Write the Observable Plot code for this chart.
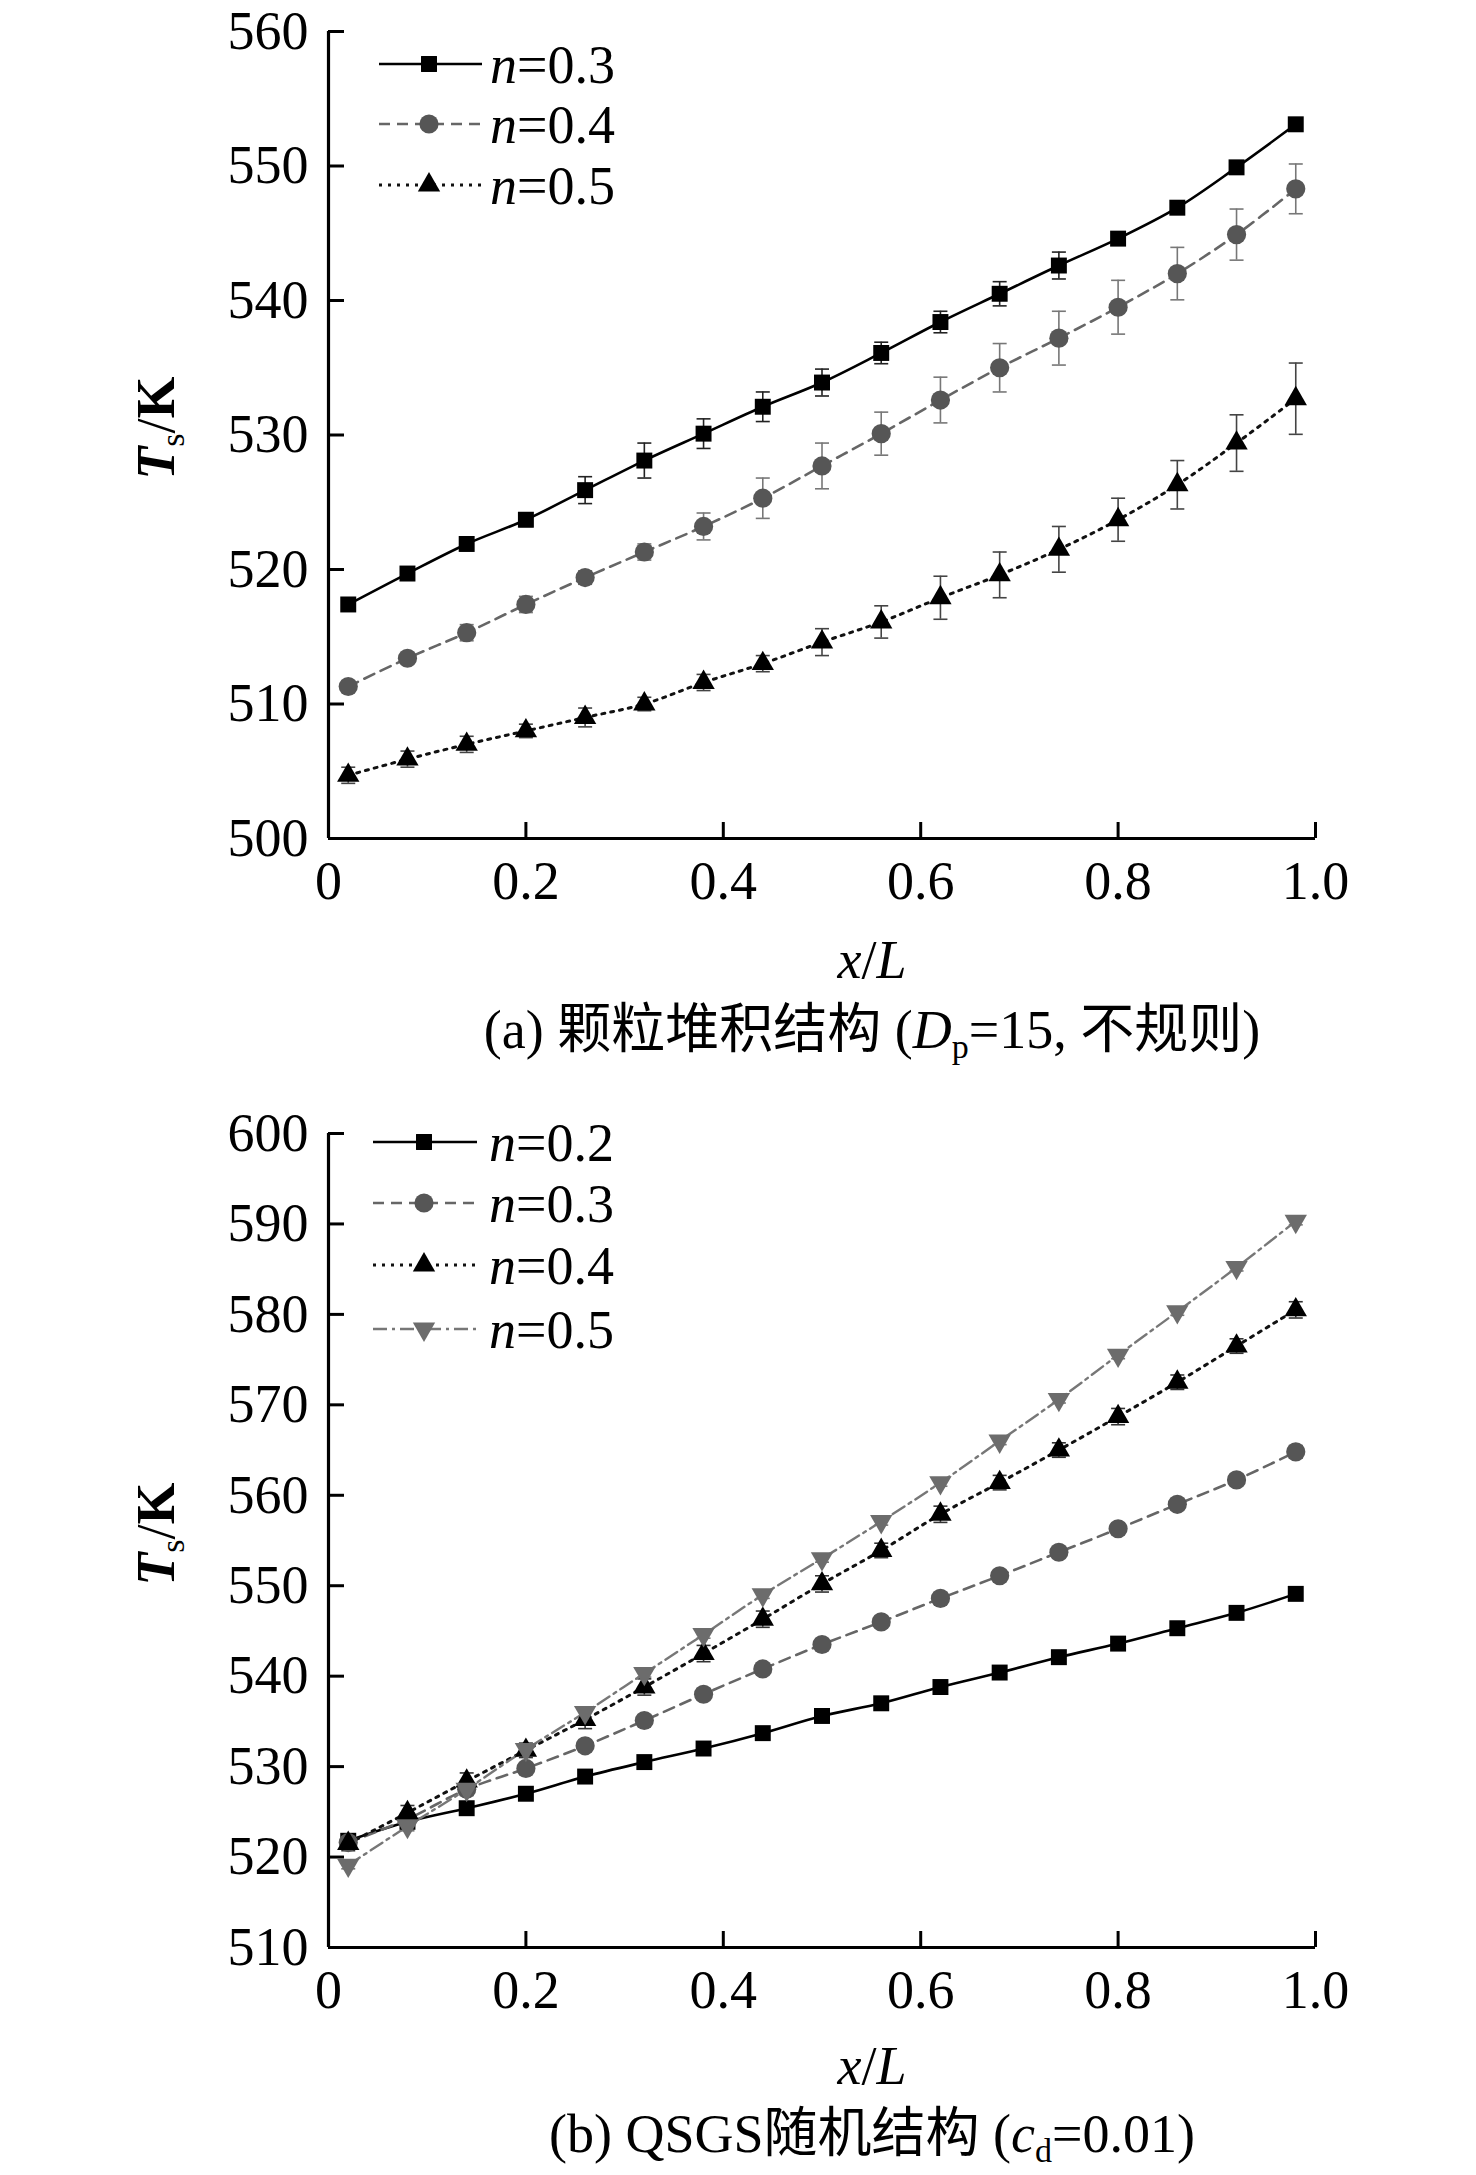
<!DOCTYPE html>
<html>
<head>
<meta charset="utf-8">
<script src="https://cdn.jsdelivr.net/npm/d3@7"></script>
<script src="https://cdn.jsdelivr.net/npm/@observablehq/plot@0.6"></script>
<style>
  html, body { margin: 0; padding: 0; background: #fff; width: 1476px; height: 2175px; overflow: hidden; }
  #root { width: 1476px; height: 2175px; position: relative; background: #fff; overflow: hidden; }
  #root svg { display: block; }
</style>
</head>
<body>
<div id="root"></div>
<script>
// ---------------- data ----------------
const xPos = [0.02, 0.08, 0.14, 0.20, 0.26, 0.32, 0.38, 0.44, 0.50, 0.56, 0.62, 0.68, 0.74, 0.80, 0.86, 0.92, 0.98];

// (a) packed particles
const topLabels = ["0.3", "0.4", "0.5"];
const a03 = [517.4, 519.7, 521.9, 523.7, 525.9, 528.1, 530.1, 532.1, 533.9, 536.1, 538.4, 540.5, 542.6, 544.6, 546.9, 549.9, 553.1];
const a04 = [511.3, 513.4, 515.3, 517.4, 519.4, 521.3, 523.2, 525.3, 527.7, 530.1, 532.6, 535.0, 537.2, 539.5, 542.0, 544.9, 548.3];
const a05 = [504.7, 505.9, 507.0, 508.0, 509.0, 510.0, 511.6, 513.0, 514.6, 516.1, 517.9, 519.6, 521.5, 523.7, 526.3, 529.4, 532.7];
const ea03 = [0.4, 0.3, 0.5, 0.5, 1.0, 1.3, 1.1, 1.1, 1.0, 0.8, 0.8, 0.9, 1.0, 0.4, 0.4, 0.3, 0.4];
const ea04 = [0.3, 0.3, 0.6, 0.6, 0.5, 0.6, 1.0, 1.5, 1.7, 1.6, 1.7, 1.8, 2.0, 2.0, 1.95, 1.9, 1.85];
const ea05 = [0.6, 0.6, 0.6, 0.5, 0.7, 0.5, 0.6, 0.6, 1.0, 1.2, 1.6, 1.7, 1.7, 1.6, 1.8, 2.1, 2.65];

// (b) QSGS
const botLabels = ["0.2", "0.3", "0.4", "0.5"];
const b02 = [521.8, 523.9, 525.4, 527.0, 528.9, 530.5, 532.0, 533.7, 535.6, 537.0, 538.8, 540.4, 542.1, 543.6, 545.3, 547.0, 549.1];
const b03 = [521.6, 524.2, 527.5, 529.8, 532.3, 535.1, 538.0, 540.8, 543.5, 546.0, 548.6, 551.1, 553.7, 556.3, 559.0, 561.7, 564.8];
const b04 = [521.5, 524.9, 528.4, 531.8, 535.2, 538.8, 542.5, 546.3, 550.2, 553.9, 557.9, 561.4, 565.0, 568.7, 572.5, 576.5, 580.5];
const b05 = [519.1, 523.4, 527.5, 531.9, 536.0, 540.3, 544.6, 549.0, 553.0, 557.1, 561.4, 566.0, 570.6, 575.5, 580.3, 585.2, 590.3];
const eb02 = [0.4, 0.5, 0.4, 0.3, 0.4, 0.3, 0.3, 0.3, 0.4, 0.3, 0.3, 0.3, 0.4, 0.3, 0.3, 0.4, 0.4];
const eb03 = [0.5, 0.6, 0.7, 0.5, 0.6, 0.5, 0.6, 0.5, 0.5, 0.5, 0.6, 0.5, 0.6, 0.5, 0.6, 0.6, 0.7];
const eb04 = [0.8, 0.8, 0.9, 0.8, 1.0, 0.9, 0.9, 0.9, 0.9, 0.8, 0.9, 0.8, 0.8, 0.9, 0.8, 0.8, 0.9];
const eb05 = [0.4, 0.5, 0.5, 0.4, 0.5, 0.4, 0.4, 0.4, 0.4, 0.4, 0.4, 0.4, 0.4, 0.4, 0.4, 0.4, 0.4];

const xTicks = [0, 0.2, 0.4, 0.6, 0.8, 1.0];
const yTicksTop = [500, 510, 520, 530, 540, 550, 560];
const yTicksBot = [510, 520, 530, 540, 550, 560, 570, 580, 590, 600];

// ---------------- styles ----------------
const FONT = '"Liberation Serif", "Times New Roman", "Noto Sans CJK SC", serif';
const FS = 54;
const STY = {
  square:   {symbol: "square",   r: 9.0, fill: "#000", rotate: 0},
  circle:   {symbol: "circle",   r: 9.6, fill: "#565656", rotate: 0},
  triUp:    {symbol: "triangle", r: 8.3, fill: "#000", rotate: 0},
  triDown:  {symbol: "triangle", r: 8.3, fill: "#6c6c6c", rotate: 180}
};
const LINE = {
  solid:   {stroke: "#000", dash: null, width: 2.6},
  dashed:  {stroke: "#666", dash: "11,7", width: 2.6},
  dotted:  {stroke: "#111", dash: "3,6", width: 3},
  dashdot: {stroke: "#777", dash: "14,5,3,5", width: 2.4}
};

const capSymbol = {draw(ctx) { ctx.moveTo(-7, 0); ctx.lineTo(7, 0); }};

function rows(vals, errs) {
  return xPos.map((x, i) => ({x, y: vals[i], lo: vals[i] - errs[i], hi: vals[i] + errs[i]}));
}

function seriesMarks(s) {
  const d = rows(s.vals, s.errs);
  const L = LINE[s.line];
  return [
    Plot.line(d, {x: "x", y: "y", stroke: L.stroke, strokeWidth: L.width, strokeDasharray: L.dash, curve: "catmull-rom"}),
    Plot.ruleX(d, {x: "x", y1: "lo", y2: "hi", stroke: s.err, strokeWidth: 1.6}),
    Plot.dot(d, {x: "x", y: "lo", symbol: capSymbol, stroke: s.err, fill: "none", strokeWidth: 1.6, r: 1}),
    Plot.dot(d, {x: "x", y: "hi", symbol: capSymbol, stroke: s.err, fill: "none", strokeWidth: 1.6, r: 1})
  ];
}
function seriesDots(s) {
  const d = rows(s.vals, s.errs);
  const M = STY[s.marker];
  return Plot.dot(d, {x: "x", y: "y", symbol: M.symbol, r: M.r, fill: M.fill, stroke: "none", rotate: M.rotate});
}

function makeChart({height, marginTop, marginBottom, yDomain, yTicks, series}) {
  const marks = [];
  series.forEach(s => marks.push(...seriesMarks(s)));
  series.forEach(s => marks.push(seriesDots(s)));
  return Plot.plot({
    width: 1476, height, marginLeft: 328, marginRight: 161, marginTop, marginBottom,
    x: {domain: [0, 1]},
    y: {domain: yDomain},
    style: {fontFamily: FONT, fontSize: FS + "px", color: "#000", background: "transparent", overflow: "visible"},
    marks: [
      Plot.ruleY([yDomain[0]], {stroke: "#000", strokeWidth: 3.2}),
      Plot.ruleX([0], {stroke: "#000", strokeWidth: 3.2}),
      Plot.axisX({ticks: xTicks.slice(1), tickSize: 16, dy: -16, text: null, label: null, strokeWidth: 3}),
      Plot.axisY({ticks: yTicks.slice(1), tickSize: 16, dx: 16, text: null, label: null, strokeWidth: 3}),
      Plot.axisX({ticks: xTicks, tickSize: 0, tickPadding: 22, label: null, fontSize: FS,
                  tickFormat: d => d === 0 ? "0" : d.toFixed(1)}),
      Plot.axisY({ticks: yTicks, tickSize: 0, tickPadding: 20, label: null, fontSize: FS,
                  tickFormat: d => String(d)}),
      ...marks
    ]
  });
}

function addLegend(svg, items, rowsY, lineX0, lineX1, markX, textX) {
  const g = d3.select(svg).append("g").attr("font-family", FONT).attr("font-size", FS).attr("text-anchor", "start");
  items.forEach((it, i) => {
    const y = rowsY[i];
    const L = LINE[it.line], M = STY[it.marker];
    g.append("line").attr("x1", lineX0).attr("x2", lineX1).attr("y1", y).attr("y2", y)
      .attr("stroke", L.stroke).attr("stroke-width", L.width).attr("stroke-dasharray", L.dash);
    const type = M.symbol === "square" ? d3.symbolSquare : M.symbol === "circle" ? d3.symbolCircle : d3.symbolTriangle;
    g.append("path").attr("d", d3.symbol(type, Math.PI * M.r * M.r)())
      .attr("transform", `translate(${markX},${y}) rotate(${M.rotate})`).attr("fill", M.fill);
    const t = g.append("text").attr("x", textX).attr("y", y + 19).attr("text-anchor", "start");
    t.append("tspan").attr("font-style", "italic").text("n");
    t.append("tspan").text("=" + it.label);
  });
}

function addTexts(svg, {yTitleY, xTitleBase, capBase, capParts}) {
  const g = d3.select(svg).append("g").attr("font-family", FONT).attr("font-size", FS).attr("fill", "#000");
  // y title
  const yt = g.append("text").attr("transform", `translate(174,${yTitleY}) rotate(-90)`).attr("text-anchor", "middle");
  yt.append("tspan").attr("font-style", "italic").attr("font-weight", "bold").text("T");
  yt.append("tspan").attr("font-size", 34).attr("dy", 10).text("s");
  yt.append("tspan").attr("dy", -10).text("/");
  yt.append("tspan").attr("font-weight", "bold").text("K");
  // x title
  const xt = g.append("text").attr("x", 872).attr("y", xTitleBase).attr("text-anchor", "middle");
  xt.append("tspan").attr("font-style", "italic").text("x");
  xt.append("tspan").text("/");
  xt.append("tspan").attr("font-style", "italic").text("L");
  // caption
  const ct = g.append("text").attr("x", 872).attr("y", capBase).attr("text-anchor", "middle");
  capParts.forEach(p => {
    const ts = ct.append("tspan").text(p.t);
    if (p.i) ts.attr("font-style", "italic");
    if (p.sub) ts.attr("font-size", 34).attr("dy", 10);
    if (p.up) ts.attr("dy", -10);
  });
}

const root = document.getElementById("root");

// -------- chart (a) --------
const topSeries = [
  {vals: a03, errs: ea03, line: "solid",  marker: "square", err: "#222", label: topLabels[0]},
  {vals: a04, errs: ea04, line: "dashed", marker: "circle", err: "#777", label: topLabels[1]},
  {vals: a05, errs: ea05, line: "dotted", marker: "triUp",  err: "#444", label: topLabels[2]}
];
const svgA = makeChart({height: 1090, marginTop: 31, marginBottom: 252, yDomain: [500, 560], yTicks: yTicksTop, series: topSeries});
addLegend(svgA, topSeries, [64, 124, 185], 379, 482, 429, 490);
addTexts(svgA, {yTitleY: 428, xTitleBase: 978, capBase: 1048, capParts: [
  {t: "(a) 颗粒堆积结构 ("}, {t: "D", i: true}, {t: "p", sub: true}, {t: "=15, 不规则)", up: true}
]});
root.appendChild(svgA);

// -------- chart (b) --------
const botSeries = [
  {vals: b02, errs: eb02, line: "solid",   marker: "square",  err: "#222", label: botLabels[0]},
  {vals: b03, errs: eb03, line: "dashed",  marker: "circle",  err: "#777", label: botLabels[1]},
  {vals: b04, errs: eb04, line: "dotted",  marker: "triUp",   err: "#333", label: botLabels[2]},
  {vals: b05, errs: eb05, line: "dashdot", marker: "triDown", err: "#777", label: botLabels[3]}
];
const svgB = makeChart({height: 1085, marginTop: 43, marginBottom: 228, yDomain: [510, 600], yTicks: yTicksBot, series: botSeries});
addLegend(svgB, botSeries, [52, 113, 175, 239], 373, 477, 424, 489);
addTexts(svgB, {yTitleY: 444, xTitleBase: 994, capBase: 1062, capParts: [
  {t: "(b) QSGS随机结构 ("}, {t: "c", i: true}, {t: "d", sub: true}, {t: "=0.01)", up: true}
]});
root.appendChild(svgB);
</script>
</body>
</html>
